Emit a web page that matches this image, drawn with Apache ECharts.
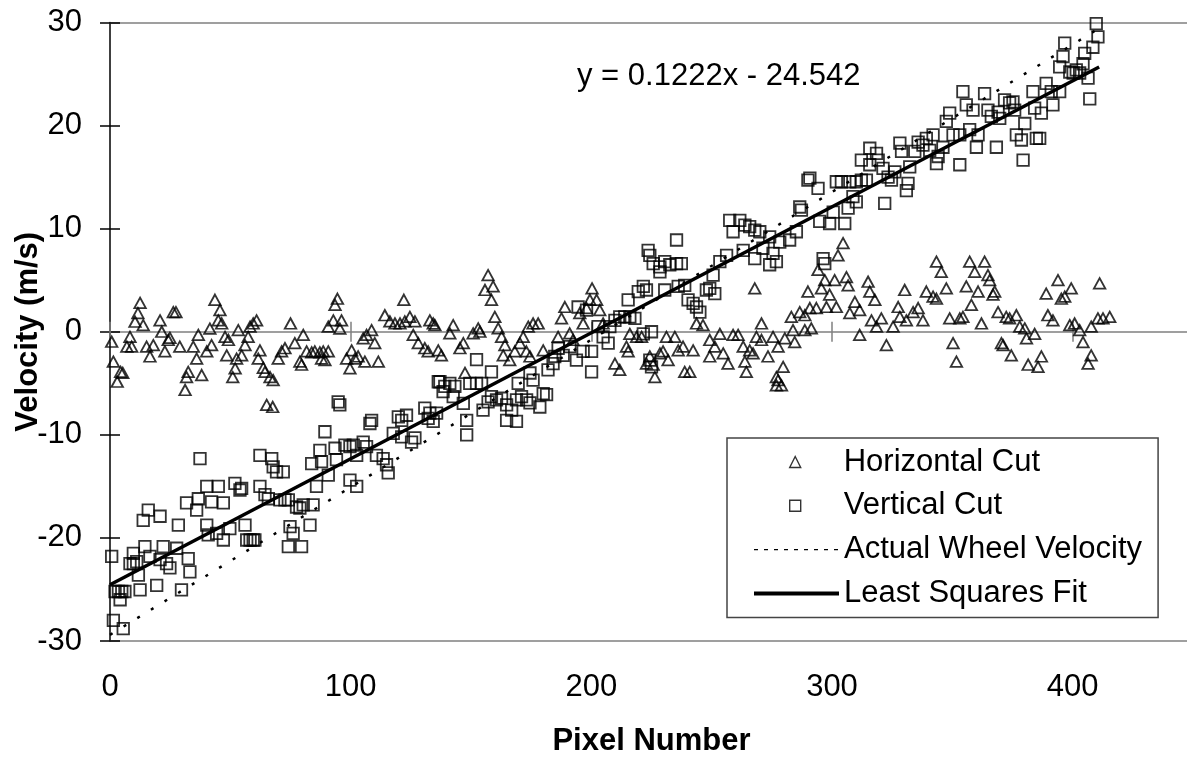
<!DOCTYPE html>
<html>
<head>
<meta charset="utf-8">
<script src="https://cdn.jsdelivr.net/npm/echarts@6/dist/echarts.min.js"></script>
<style>html,body{margin:0;padding:0;background:#fff;}#chart{width:1187px;height:761px;}</style>
</head>
<body>
<div id="chart"></div>
<script>
// ---- data ----
const horizontalCut = [
[0.7,-0.97],[1.4,-2.9],[3,-4.85],[4.4,-3.9],[5.3,-4.0],[8.3,-0.5],[7,-1.45],[9,-1.45],[10.4,0.97],[11.6,1.8],
[12.5,2.8],[13.8,0.65],[15.2,-1.45],[16.6,-2.4],[18,-1.3],[20.8,1.1],[21.5,0],[22.8,-1.9],[24.2,-0.8],[24.9,-0.6],
[26.3,1.9],[27.4,1.9],[29,-1.45],[31.2,-5.65],[31.8,-4.4],[32.5,-3.9],[34.6,-1.45],[36,-2.6],[36.7,-0.3],[38.1,-4.2],
[40.2,-1.9],[42.2,-1.3],[41.5,0.3],[43.6,3.1],[45.7,2.1],[45,1.1],[46.4,0.8],[47.8,-0.5],[48.5,-2.3],[49.2,-0.8],
[51,-4.4],[52,-3.55],[52.6,-2.6],[53.3,0.16],[54.7,-2.3],[56.1,-1.3],[57.4,-0.5],[58.2,0.5],[59.5,0.8],[60.9,1.1],
[62.3,-1.8],[61.6,-2.6],[63.7,-3.5],[64.4,-3.9],[66.5,-4.4],[67.8,-4.7],[65.1,-7.1],[67.6,-7.3],[69.9,-2.6],[71.3,-1.9],
[72.7,-1.6],[75,0.8],[76.8,-1.1],[78.9,-2.9],[79.6,-3.2],[80.3,-0.3],[81.7,-1.9],[83.8,-2.0],[85.1,-1.9],[87.2,-2.0],
[88.6,-1.9],[90.7,-1.9],[87.9,-2.6],[89.3,-2.75],[90.7,0.5],[92.8,1.1],[93.5,2.6],[94.5,3.2],[96.2,1.1],[95.5,0.3],
[99.7,-3.55],[100.4,-1.8],[98.3,-2.6],[101.8,-2.6],[103.1,-2.4],[105.9,-2.9],[105.2,-0.65],[106.6,-0.3],[108.7,0.16],[110,-1.1],
[111.5,-2.9],[114.2,1.6],[116.3,1.0],[118.4,0.8],[120.5,0.8],[122.5,1.0],[124.6,1.45],[126.7,1.0],[122.1,3.1],[126,-0.3],
[128.1,-1.1],[130.8,-1.6],[132.2,-1.9],[132.9,1.1],[135,0.65],[134.3,0.8],[136.4,-1.8],[137.7,-2.3],[141.2,-0.16],[142.6,0.65],
[145.4,-1.6],[146.8,-1.1],[150.9,-0.16],[153,0.33],[153.7,0],[157.1,5.5],[155.8,4.05],[159.2,4.4],[158.5,3.1],[159.9,1.45],
[161.3,0.33],[162.7,-0.5],[164.1,-1.3],[163.4,-2.3],[166.1,-2.75],[168.2,-1.9],[170.3,-1.1],[171.7,-0.5],[173.8,0.5],[175.8,0.8],
[177.9,0.8],[173,-1.9],[174.5,-2.4],[147.5,-4.0],[180,-1.8],[186.2,-0.5],[187.6,1.3],[189,2.4],[191,-0.16],[192.4,-0.8],
[195.2,1.8],[196.6,0.8],[198,2.3],[200.3,4.2],[199.4,3.1],[202.2,3.1],[203.5,2.1],[204.9,0.8],[209.8,-3.1],[211.8,-3.7],
[215.3,-1.9],[214.6,-1.45],[216,-0.2],[218.8,-0.5],[220.9,-0.5],[222.9,-3.1],[224.3,-2.4],[225.7,-3.2],[226.4,-4.4],[228.5,-2.1],
[229.8,-1.9],[231.9,-2.75],[231.2,-0.5],[234.7,-0.5],[236.1,-1.8],[238.1,-1.45],[242.3,-1.8],[238.8,-3.9],[240.9,-3.9],[243.7,0.8],
[246.4,0.65],[249.2,-0.8],[251.3,-1.45],[249.2,-2.4],[253.4,-0.2],[254.8,-2.1],[256.8,-3.1],[258.9,-0.3],[261,-0.3],[263.1,-1.45],
[264.4,-3.9],[263.8,-2.9],[267.9,4.2],[270.7,0.8],[268.6,-0.5],[270.7,-0.8],[275.5,-0.5],[265.8,-1.8],[267.2,-2.1],[273.4,-2.4],
[276.9,-4.4],[276.9,-5.2],[277.6,-1.45],[280.4,-0.65],[284.5,-1.0],[283.8,0.16],[279.7,-3.4],[277.6,-4.7],[279,-5.2],[288.7,0.16],
[291.4,0.33],[283.1,1.45],[286.6,1.9],[288.7,1.6],[290,3.9],[290.8,2.3],[293.5,2.3],[294.2,6],[295.6,4.2],[297,5],
[297.7,2.4],[301.8,2.4],[299,3.6],[301.1,5],[302.5,7.4],[304.6,8.6],[306,5.3],[306.7,4.5],[307.4,1.8],[309.5,2.9],
[311.5,2.1],[311.5,-0.3],[315,4.85],[315.7,3.9],[317.8,3.1],[316.4,1.1],[318.5,0.5],[320.5,1.3],[322.6,-1.3],[325.4,0.5],
[327.5,2.4],[328.2,1.45],[330.2,4.05],[330.9,1.1],[333.7,1.9],[335.8,2.3],[337.8,1.1],[339.2,3.9],[342,3.4],[343.4,3.2],
[343.4,6.8],[345.4,5.8],[347.5,4.2],[348.9,1.3],[353.1,1.3],[354.4,1.45],[350.3,-1.1],[351.7,-2.9],[355.8,4.4],[357.2,6.8],
[357.9,2.6],[359.3,5.8],[360.7,3.9],[362.1,0.8],[363.4,6.8],[364.8,5.5],[365.5,5],[367.6,3.9],[366.9,3.6],[369,1.9],
[370.4,-1.1],[371.1,-1.3],[372.4,1.45],[373.8,1.3],[376.6,1.6],[374.5,-2.3],[378,0.5],[380.1,0.33],[380.8,-0.65],[381.5,-3.2],
[384.2,-0.2],[385.6,-3.4],[387,-2.4],[389,3.7],[389.7,1.6],[391.8,1.1],[393.9,5],[395.3,3.2],[396.7,3.4],[399.4,4.2],
[398.8,0.65],[400.8,0.8],[402.9,0.16],[404.3,-1.0],[406.4,-3.1],[407.7,-2.3],[407.7,0.5],[410.5,1.3],[412.6,1.3],[415.4,1.45],
[411.2,4.7]
];
const verticalCut = [
[0.7,-21.8],[1.4,-28],[5.5,-28.8],[2.1,-25.2],[3.5,-25.2],[4.9,-25.2],[6.2,-25.2],[4.2,-26],[8.3,-22.5],[9.7,-22.5],
[11.1,-22.3],[9.7,-21.5],[11.8,-23.6],[12.5,-25.05],[14.5,-20.85],[16.6,-21.8],[13.8,-18.3],[15.9,-17.3],[19.4,-24.6],[20.8,-17.9],
[20.8,-22.1],[22.1,-20.85],[23.5,-22.5],[24.9,-22.9],[27.7,-21],[28.4,-18.75],[29.7,-25.05],[31.8,-16.6],[32.5,-22],[33.2,-23.3],
[36,-17.3],[36.7,-16.2],[37.4,-12.3],[40.2,-15],[42.2,-16.5],[45,-15],[47.1,-16.6],[40.2,-18.75],[40.8,-19.7],[44.3,-19.55],
[47.1,-20.2],[49.8,-19.1],[51.9,-14.7],[54,-15.35],[54.7,-15.2],[56.1,-18.75],[56.8,-20.2],[58.2,-20.2],[59.5,-20.2],[60.2,-20.2],
[62.3,-15],[62.3,-12],[64.4,-15.8],[67.2,-12.3],[67.8,-13.1],[69.2,-13.6],[72,-13.6],[65.8,-16.2],[70.6,-16.3],[72.7,-16.3],
[74.1,-16.3],[74.8,-18.9],[76.1,-19.55],[74.1,-20.85],[79.6,-20.85],[77.5,-17],[78.9,-17.1],[80.3,-16.8],[84.4,-16.8],[83.1,-18.75],
[85.8,-15],[83.8,-12.8],[87.2,-11.5],[87.9,-12.6],[89.3,-9.7],[90.7,-13.9],[93.5,-11.3],[94.1,-12.4],[97.6,-11],[99.7,-11.15],
[101.1,-11],[102.5,-12],[99.7,-14.4],[102.5,-15],[105.2,-10.7],[106.6,-11.15],[108,-8.9],[108.7,-8.6],[110.7,-12],[113.5,-12.3],
[114.9,-12.9],[115.6,-13.7],[117.7,-9.85],[119.8,-8.25],[121.2,-8.6],[123.2,-8.1],[121.2,-10.2],[125.3,-10.7],[126.7,-10.3],[130.8,-7.4],
[132.2,-8.4],[134.3,-8.7],[94.8,-6.8],[95.5,-7.1],[136.4,-4.85],[132.9,-7.9],[135.7,-7.9],[137.1,-4.85],[139.1,-5.3],[141.2,-5],
[143.3,-5.3],[138.4,-5.8],[142.6,-6.3],[148.2,-8.6],[148.2,-10],[146.8,-6.95],[149.5,-5],[152.3,-5],[154.4,-5],[152.3,-2.7],
[155,-7.6],[157.1,-6.8],[158.5,-6.3],[160.6,-6.6],[162.7,-6.45],[164.8,-7.1],[158.5,-3.9],[164.8,-8.6],[168.9,-8.7],[166.9,-7.6],
[168.9,-6.6],[171,-6.3],[173.1,-6.6],[174.5,-6.9],[169.6,-5],[178.6,-7.3],[180,-6],[181.4,-6.1],[175.8,-4.7],[174.5,-4],
[182,-3.7],[184.1,-3.1],[184.8,-2.4],[186.2,-1.6],[188.3,-2.3],[191.1,-1.45],[194.5,2.4],[198,2.1],[193.8,-2.75],[196.6,-1.9],
[200.1,-1.9],[200.1,-3.9],[202.8,0.5],[204.9,-0.5],[207,-1.1],[207.7,0.5],[209.8,1.1],[211.8,1.45],[213.9,1.45],[216,1.45],
[218.1,1.3],[215.3,3.1],[219.5,3.9],[221.6,4.4],[222.9,4.05],[221.6,-0.2],[225,0],[224.3,-2.75],[225,-3.4],[223.6,7.9],
[224.3,7.4],[225.7,6.6],[228.5,6.3],[230.5,6.8],[232.6,6.5],[235.4,6.6],[237.4,6.6],[235.4,8.9],[228.5,5.8],[230.5,4.05],
[236.1,4.4],[238.8,4.5],[240.2,3.1],[242.3,2.75],[243.7,2.4],[245.1,1.9],[247.8,4.05],[249.2,4.2],[251.3,3.7],[250.6,5.5],
[253.4,6.8],[256.2,7.4],[257.5,10.8],[258.9,9.7],[261.7,10.8],[263.8,10.35],[265.8,10.2],[267.9,9.85],[270,9.7],[263.1,7.9],
[267.9,7.1],[271.3,8.1],[274.1,6.5],[275.5,7.6],[274.1,9.2],[278.3,8.7],[282.4,8.9],[285.2,9.7],[286.6,12.1],[287.3,11.8],
[290,14.7],[290.8,14.9],[294.2,13.9],[294.9,10.7],[299,10.5],[305.3,10.5],[300.5,11.6],[306.7,12],[301.8,14.55],[303.9,14.55],
[307.4,14.55],[310.1,14.55],[312.2,14.7],[314.3,14.7],[310.1,12.6],[308.7,13.1],[312.2,16.65],[315.7,17.8],[315.7,16.2],[318.5,17.3],
[319.2,16.65],[321.2,15.85],[321.9,12.45],[323.3,15],[324.7,14.7],[326.1,15.5],[328.2,18.3],[328.9,17.5],[330.9,13.7],[331.6,14.4],
[332.3,16],[334.4,17.5],[335.8,18.4],[337.8,18.1],[339.2,18.75],[340.6,17.6],[342,19.1],[343.4,16.3],[344.1,17],[346.1,17.9],
[347.5,20.4],[348.9,21.2],[350.3,19.1],[353.1,19.1],[354.4,23.3],[353.1,16.2],[355.8,22],[357.2,19.6],[358.6,21.5],[360,17.9],
[360.7,19.1],[363.4,23.1],[364.8,21.5],[366.2,20.9],[368.3,17.9],[369,21.3],[369.7,20.7],[371.7,22.5],[373.8,22.2],[375.2,22.3],
[375.9,21.5],[376.6,19.1],[378.7,18.6],[380.1,20.2],[379.4,16.65],[383.5,23.3],[384.2,21.7],[384.9,18.75],[386.3,18.75],[387,21.2],
[389,24.1],[391.1,23.3],[391.8,22],[394.6,23.3],[394.6,25.7],[396.7,28],[396,26.7],[398.8,25.2],[400.2,25.1],[401.5,25.4],
[402.9,25.1],[404.3,26],[405,27],[406.4,24.6],[407.1,22.6],[408.4,27.6],[410.5,28.6],[409.8,29.9],[276.9,6.8],[296.3,7.1],
[297,6.6]
];
const actualX = [0, 410];
const actualY = [-29.4, 29.3];
const fitX = [0, 411];
const fitY = [-24.54, 25.68];
const xTicks = [0, 100, 200, 300, 400];
const seriesNames = ['Horizontal Cut', 'Vertical Cut', 'Actual Wheel Velocity', 'Least Squares Fit'];
const equationText = 'y = 0.1222x - 24.542';

// ---- chart ----
const FONT = '"Liberation Sans", Arial, sans-serif';
const chart = echarts.init(document.getElementById('chart'), null, {renderer: 'canvas'});
const zip = (xs, ys) => xs.map((x, i) => [x, ys[i]]);
const xBase = {type: 'value', min: 0, max: 450, interval: 100, splitLine: {show: false}};
const yBase = {type: 'value', min: -30, max: 30, interval: 10, splitLine: {show: false}};
const hiddenSymbolStyle = {color: 'rgba(0,0,0,0)', borderColor: 'rgba(0,0,0,0)', borderWidth: 0, opacity: 0};
const legendText = {fontSize: 31, fontFamily: FONT, color: '#000', lineHeight: 34};
const option = {
  animation: false,
  backgroundColor: '#fff',
  grid: {left: 110, right: -6, top: 22.5, bottom: 120, show: false, containLabel: false, outerBoundsMode: 'none'},
  xAxis: [
    Object.assign({}, xBase, {
      position: 'bottom',
      axisLine: {show: true, onZero: false, lineStyle: {color: '#808080', width: 1.5}},
      axisTick: {show: false},
      axisLabel: {show: true, margin: 31, fontSize: 31, fontFamily: FONT, color: '#000', showMaxLabel: false,
        formatter: v => xTicks.indexOf(v) >= 0 ? String(v) : ''},
      name: 'Pixel Number', nameLocation: 'middle', nameGap: 85, nameMoveOverlap: false,
      nameTextStyle: {fontSize: 31, fontWeight: 'bold', fontFamily: FONT, color: '#000'}
    }),
    Object.assign({}, xBase, {
      position: 'bottom',
      axisLine: {show: true, onZero: true, onZeroAxisIndex: 0, lineStyle: {color: '#808080', width: 1.5}},
      axisTick: {show: true, inside: false, length: 10, customValues: xTicks, lineStyle: {color: '#808080', width: 1.5}},
      axisLabel: {show: false}
    }),
    Object.assign({}, xBase, {
      position: 'top',
      axisLine: {show: false, onZero: true, onZeroAxisIndex: 0},
      axisTick: {show: true, inside: false, length: 10, customValues: xTicks, lineStyle: {color: '#808080', width: 1.5}},
      axisLabel: {show: false}
    }),
    Object.assign({}, xBase, {
      position: 'top',
      axisLine: {show: true, onZero: false, lineStyle: {color: '#808080', width: 1.5}},
      axisTick: {show: false},
      axisLabel: {show: false}
    })
  ],
  yAxis: [
    Object.assign({}, yBase, {
      position: 'left',
      axisLine: {show: true, onZero: false, lineStyle: {color: '#000', width: 1.5}},
      axisTick: {show: true, inside: false, length: 10, lineStyle: {color: '#000', width: 1.5}},
      axisLabel: {show: true, margin: 28, fontSize: 31, fontFamily: FONT, color: '#000'},
      name: 'Velocity (m/s)', nameLocation: 'middle', nameGap: 66, nameMoveOverlap: false,
      nameTextStyle: {fontSize: 31, fontWeight: 'bold', fontFamily: FONT, color: '#000'}
    }),
    Object.assign({}, yBase, {
      position: 'left',
      axisLine: {show: false, onZero: false},
      axisTick: {show: true, inside: true, length: 10, lineStyle: {color: '#000', width: 1.5}},
      axisLabel: {show: false}
    })
  ],
  legend: [
    {
      // frame + line items
      orient: 'vertical', left: 727, top: 438, z: 4,
      padding: [94.6, 16, 7, 25],
      borderColor: '#444', borderWidth: 1.5, backgroundColor: '#fff',
      itemWidth: 85, itemHeight: 11, itemGap: 9.8,
      textStyle: legendText,
      data: [
        {name: seriesNames[2], lineStyle: {type: [4, 6], width: 1.3}, itemStyle: hiddenSymbolStyle},
        {name: seriesNames[3], lineStyle: {width: 4}, itemStyle: hiddenSymbolStyle}
      ]
    },
    {
      // marker items
      orient: 'vertical', left: 727, top: 438, z: 6,
      padding: [7, 0, 0, 62],
      itemWidth: 11, itemHeight: 11, itemGap: 9.8,
      textStyle: Object.assign({}, legendText, {padding: [0, 0, 0, 38]}),
      data: [
        {name: seriesNames[0], icon: 'triangle', itemStyle: {borderWidth: 1.4}},
        {name: seriesNames[1], icon: 'rect', itemStyle: {borderWidth: 1.4}}
      ]
    }
  ],
  graphic: [{
    type: 'text', left: 577, top: 61,
    style: {text: equationText, font: '31px ' + FONT, fill: '#000'}
  }],
  series: [
    {
      name: seriesNames[0], type: 'scatter', xAxisIndex: 0, yAxisIndex: 0,
      symbol: 'triangle', symbolSize: [11.5, 10.5],
      itemStyle: {color: 'rgba(255,255,255,0)', borderColor: '#000', borderWidth: 1.8},
      data: horizontalCut, z: 2
    },
    {
      name: seriesNames[1], type: 'scatter', xAxisIndex: 0, yAxisIndex: 0,
      symbol: 'rect', symbolSize: 11.5,
      itemStyle: {color: 'rgba(255,255,255,0)', borderColor: '#000', borderWidth: 1.8},
      data: verticalCut, z: 2
    },
    {
      name: seriesNames[2], type: 'line', xAxisIndex: 0, yAxisIndex: 0,
      symbol: 'none', showSymbol: false,
      lineStyle: {color: '#000', width: 2.5, type: [3, 13]},
      itemStyle: {color: '#000'},
      data: zip(actualX, actualY), z: 3
    },
    {
      name: seriesNames[3], type: 'line', xAxisIndex: 0, yAxisIndex: 0,
      symbol: 'none', showSymbol: false,
      lineStyle: {color: '#000', width: 3.5},
      itemStyle: {color: '#000'},
      data: zip(fitX, fitY), z: 4
    }
  ]
};
chart.setOption(option);
</script>
</body>
</html>
